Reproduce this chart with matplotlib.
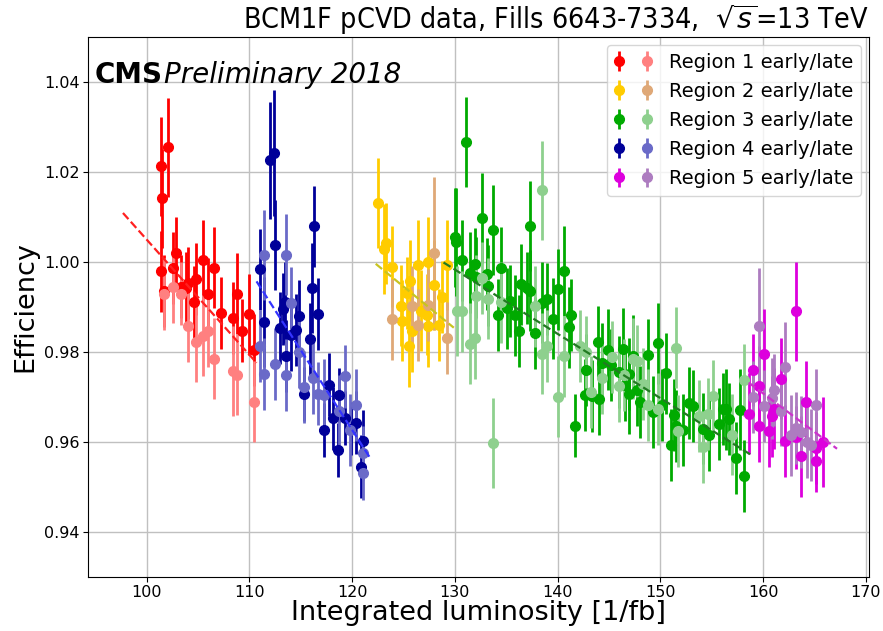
import numpy as np
import matplotlib
matplotlib.use("Agg")
import matplotlib.pyplot as plt
from matplotlib.legend_handler import HandlerTuple

# Region 1
r1e_x = [101.4, 101.5, 101.4, 101.7, 102.1, 102.6, 102.9, 103.3, 103.8, 104.0, 104.6,
         104.8, 105.5, 106.0, 106.6, 107.2, 108.4, 108.8, 109.3, 110.0, 110.5]
r1e_y = [1.0213, 1.0142, 0.998, 0.9935, 1.0255, 0.9987, 1.002, 0.9945, 0.9942, 0.9953, 0.9911,
         0.9962, 1.0004, 0.9929, 0.9987, 0.9887, 0.9876, 0.9929, 0.9847, 0.9884, 0.9805]
r1e_e = [0.011, 0.011, 0.009, 0.008, 0.011, 0.008, 0.008, 0.007, 0.008, 0.008, 0.008,
         0.008, 0.009, 0.008, 0.009, 0.008, 0.008, 0.009, 0.007, 0.009, 0.008]
r1l_x = [101.7, 102.6, 103.3, 104.0, 104.8, 105.5, 106.0, 106.6, 108.4, 108.8, 110.5]
r1l_y = [0.9929, 0.9945, 0.9929, 0.9858, 0.9823, 0.9836, 0.9847, 0.9785, 0.9758, 0.9749, 0.9689]
r1l_e = [0.008, 0.008, 0.007, 0.008, 0.009, 0.009, 0.008, 0.009, 0.010, 0.009, 0.009]

# Region 2
r2e_x = [122.5, 123.1, 123.3, 123.9, 124.8, 124.9, 125.3, 125.5, 125.6, 125.8, 126.4,
         126.7, 127.3, 127.4, 127.4, 128.0, 128.5, 128.8, 129.2]
r2e_y = [1.0131, 1.0029, 1.0042, 0.9989, 0.9903, 0.9870, 0.9931, 0.9813, 0.9958, 0.9846, 0.9994,
         0.9892, 0.9883, 1.0001, 0.9857, 0.9950, 0.9859, 0.9923, 0.9994]
r2e_e = [0.010, 0.010, 0.009, 0.009, 0.009, 0.009, 0.008, 0.009, 0.009, 0.009, 0.010,
         0.009, 0.009, 0.010, 0.009, 0.010, 0.008, 0.008, 0.010]
r2l_x = [123.9, 125.8, 126.4, 127.4, 128.0, 129.2]
r2l_y = [0.9873, 0.9902, 0.9860, 0.9905, 1.0019, 0.9831]
r2l_e = [0.009, 0.009, 0.008, 0.008, 0.017, 0.008]

# Region 3
r3e_x = [130.0, 130.1, 130.7, 131.1, 131.5, 132.0, 132.1, 132.6, 133.1, 133.2, 133.7, 134.2,
         134.5, 135.1, 135.4, 135.9, 136.2, 136.4, 137.0, 137.3, 137.3, 137.8, 138.5, 139.0,
         139.6, 140.0, 140.6, 141.1, 141.3, 141.7, 142.7, 142.8, 143.4, 143.9, 144.0, 144.3,
         144.9, 145.2, 146.0, 146.4, 146.6, 147.0, 147.0, 147.3, 147.7, 148.0, 148.8, 149.3,
         149.8, 150.2, 150.6, 151.0, 151.3, 151.5, 152.2, 152.8, 153.2, 154.2, 154.7, 155.7,
         156.1, 156.4, 156.7, 157.4, 157.8, 158.1]
r3e_y = [1.0055, 1.0045, 1.0004, 1.0267, 0.9976, 0.9996, 0.9966, 1.0098, 0.9973, 0.9947, 1.0072, 0.9882,
         0.9987, 0.9897, 0.9914, 0.9882, 0.9846, 0.9951, 0.9943, 1.0080, 0.9936, 0.9843, 0.9910, 0.9917,
         0.9874, 0.9939, 0.9981, 0.9855, 0.9882, 0.9636, 0.9705, 0.9761, 0.9702, 0.9823, 0.9695, 0.9775,
         0.9805, 0.9772, 0.9755, 0.9807, 0.9726, 0.9707, 0.9752, 0.9792, 0.9715, 0.9690, 0.9794, 0.9667,
         0.9820, 0.9683, 0.9753, 0.9594, 0.9661, 0.9636, 0.9627, 0.9687, 0.9679, 0.9630, 0.9615, 0.9641,
         0.9674, 0.9673, 0.9652, 0.9565, 0.9672, 0.9524]
r3e_e = [0.011, 0.012, 0.009, 0.010, 0.009, 0.008, 0.009, 0.010, 0.008, 0.009, 0.010, 0.008,
         0.009, 0.009, 0.008, 0.009, 0.008, 0.009, 0.008, 0.010, 0.009, 0.008, 0.009, 0.008,
         0.009, 0.009, 0.010, 0.009, 0.008, 0.007, 0.008, 0.008, 0.008, 0.008, 0.008, 0.009,
         0.009, 0.008, 0.008, 0.009, 0.008, 0.009, 0.008, 0.009, 0.008, 0.008, 0.008, 0.008,
         0.009, 0.008, 0.009, 0.008, 0.008, 0.008, 0.008, 0.008, 0.008, 0.008, 0.008, 0.008,
         0.008, 0.009, 0.008, 0.008, 0.009, 0.008]
r3l_x = [130.2, 130.7, 131.5, 132.0, 132.1, 132.6, 133.2, 133.7, 134.5, 137.8, 138.5, 138.5,
         139.0, 140.0, 140.6, 142.2, 142.8, 143.3, 144.3, 145.3, 146.0, 146.5, 147.3, 147.7,
         148.3, 148.8, 149.8, 151.5, 151.7, 153.8, 154.2, 154.6, 155.1, 157.0, 158.1]
r3l_y = [0.9892, 0.9891, 0.9818, 0.9831, 0.9925, 0.9964, 0.9918, 0.9598, 0.9911, 0.9902, 1.0160, 0.9796,
         0.9814, 0.9701, 0.9791, 0.9814, 0.9800, 0.9711, 0.9742, 0.9790, 0.9724, 0.9749, 0.9785, 0.9781,
         0.9729, 0.9683, 0.9674, 0.9809, 0.9624, 0.9658, 0.9588, 0.9663, 0.9702, 0.9616, 0.9737]
r3l_e = [0.010, 0.009, 0.009, 0.009, 0.009, 0.008, 0.009, 0.010, 0.009, 0.009, 0.011, 0.009,
         0.008, 0.009, 0.009, 0.008, 0.008, 0.008, 0.008, 0.008, 0.008, 0.008, 0.009, 0.008,
         0.008, 0.008, 0.008, 0.009, 0.008, 0.008, 0.008, 0.008, 0.008, 0.009, 0.008]

# Region 4
r4e_x = [111.0, 111.4, 112.0, 112.4, 112.5, 113.0, 113.3, 113.5, 113.6, 114.1, 114.5, 114.8,
         115.3, 115.9, 116.1, 116.3, 116.7, 117.3, 117.8, 118.1, 118.6, 118.7, 119.3, 119.9,
         120.4, 120.9, 121.1]
r4e_y = [0.9984, 0.9866, 1.0226, 1.0242, 1.0038, 0.9853, 0.9896, 0.9911, 0.9791, 0.9837, 0.9848, 0.9879,
         0.9707, 0.9828, 0.9942, 1.0080, 0.9885, 0.9627, 0.9727, 0.9653, 0.9583, 0.9705, 0.9653, 0.9630,
         0.9643, 0.9545, 0.9602]
r4e_e = [0.009, 0.010, 0.013, 0.014, 0.010, 0.008, 0.008, 0.009, 0.008, 0.008, 0.008, 0.008,
         0.006, 0.008, 0.010, 0.009, 0.008, 0.006, 0.007, 0.007, 0.006, 0.006, 0.006, 0.006,
         0.007, 0.007, 0.007]
r4l_x = [111.0, 111.4, 111.4, 112.5, 113.6, 113.6, 114.1, 114.8, 115.3, 116.2, 116.7, 117.3,
         118.7, 119.3, 119.8, 120.4, 121.1, 121.1]
r4l_y = [0.9813, 1.0016, 0.9751, 0.9773, 1.0016, 0.9749, 0.9908, 0.9801, 0.9722, 0.9742, 0.9707, 0.9705,
         0.9670, 0.9746, 0.9626, 0.9683, 0.9576, 0.9532]
r4l_e = [0.008, 0.010, 0.008, 0.008, 0.009, 0.008, 0.008, 0.008, 0.008, 0.008, 0.007, 0.008,
         0.008, 0.007, 0.008, 0.008, 0.006, 0.006]

# Region 5
r5e_x = [158.6, 159.0, 159.6, 159.6, 160.1, 160.6, 160.9, 161.1, 161.7, 162.1, 163.2, 163.2,
         163.7, 164.2, 165.2, 165.2, 165.8]
r5e_y = [0.9663, 0.9760, 0.9724, 0.9635, 0.9796, 0.9624, 0.9657, 0.9674, 0.9741, 0.9603, 0.9891, 0.9611,
         0.9568, 0.9689, 0.9587, 0.9558, 0.9599]
r5e_e = [0.009, 0.008, 0.009, 0.008, 0.010, 0.008, 0.009, 0.009, 0.009, 0.008, 0.011, 0.007,
         0.009, 0.009, 0.008, 0.007, 0.010]
r5l_x = [159.0, 159.6, 160.1, 160.9, 161.1, 161.7, 162.1, 162.7, 163.2, 163.7, 164.3, 164.7, 165.2]
r5l_y = [0.9699, 0.9857, 0.9680, 0.9697, 0.9715, 0.9670, 0.9767, 0.9615, 0.9631, 0.9622, 0.9599, 0.9593, 0.9683]
r5l_e = [0.008, 0.013, 0.008, 0.009, 0.008, 0.008, 0.010, 0.009, 0.008, 0.008, 0.008, 0.008, 0.008]

# dashed fit lines (end points)
fit1_x, fit1_y = [97.7, 110.7], [1.0109, 0.9776]
fit2_x, fit2_y = [122.3, 129.9], [0.9996, 0.9854]
fit3_x, fit3_y = [128.9, 159.0], [0.9999, 0.9569]
fit4_x, fit4_y = [110.7, 121.8], [0.9957, 0.9563]
fit5_x, fit5_y = [158.6, 167.2], [0.9732, 0.9585]

regions = [
    ("Region 1", (r1e_x, r1e_y, r1e_e), (r1l_x, r1l_y, r1l_e), (fit1_x, fit1_y), "#ff0000", "#ff8080", "#ff2020"),
    ("Region 2", (r2e_x, r2e_y, r2e_e), (r2l_x, r2l_y, r2l_e), (fit2_x, fit2_y), "#ffcc00", "#dfa877", "#c8c420"),
    ("Region 3", (r3e_x, r3e_y, r3e_e), (r3l_x, r3l_y, r3l_e), (fit3_x, fit3_y), "#00aa00", "#8ed08e", "#227a22"),
    ("Region 4", (r4e_x, r4e_y, r4e_e), (r4l_x, r4l_y, r4l_e), (fit4_x, fit4_y), "#000099", "#6a6ac8", "#3333ff"),
    ("Region 5", (r5e_x, r5e_y, r5e_e), (r5l_x, r5l_y, r5l_e), (fit5_x, fit5_y), "#dd00dd", "#ad7cc0", "#cc33cc"),
]

fig = plt.figure(figsize=(8.83, 6.31), dpi=100)
ax = fig.add_axes([0.0997, 0.0856, 0.8843, 0.8557])

handles, labels = [], []
for name, early, late, fit, c_e, c_l, c_f in regions:
    he = ax.errorbar(early[0], early[1], yerr=early[2], fmt="o", color=c_e, ms=7,
                     elinewidth=2, capsize=0, zorder=3)
    hl = ax.errorbar(late[0], late[1], yerr=late[2], fmt="o", color=c_l, ms=7,
                     elinewidth=2, capsize=0, zorder=3)
    ax.plot(fit[0], fit[1], "--", color=c_f, lw=1.6, zorder=4)
    handles.append((he, hl))
    labels.append(name + " early/late")

ax.set_xlim(94.3, 170.3)
ax.set_ylim(0.93, 1.05)
ax.set_xticks(np.arange(100, 171, 10))
ax.set_yticks(np.arange(0.94, 1.041, 0.02))
ax.tick_params(labelsize=11.5, length=3.5, pad=2.5)
ax.grid(True, color="#c0c0c0", lw=1)
ax.set_axisbelow(True)

ax.set_xlabel("Integrated luminosity [1/fb]", fontsize=19.5, labelpad=0)
ax.set_ylabel("Efficiency", fontsize=19.5, labelpad=4)
ax.set_title(r"BCM1F pCVD data, Fills 6643-7334,  $\sqrt{s}$=13 TeV",
             loc="right", fontsize=20.5, pad=5, fontstretch="condensed")

ax.text(0.009, 0.955, "CMS", transform=ax.transAxes, fontsize=20, fontweight="bold",
        va="top", ha="left")
ax.text(0.097, 0.955, "Preliminary 2018", transform=ax.transAxes, fontsize=20,
        style="italic", va="top", ha="left")

ax.legend(handles, labels, loc="upper right", fontsize=14,
          handler_map={tuple: HandlerTuple(ndivide=None, pad=0.9)},
          handlelength=1.9, handletextpad=0.9, borderaxespad=0.4, labelspacing=0.52)

fig.savefig("out.png", dpi=100)
